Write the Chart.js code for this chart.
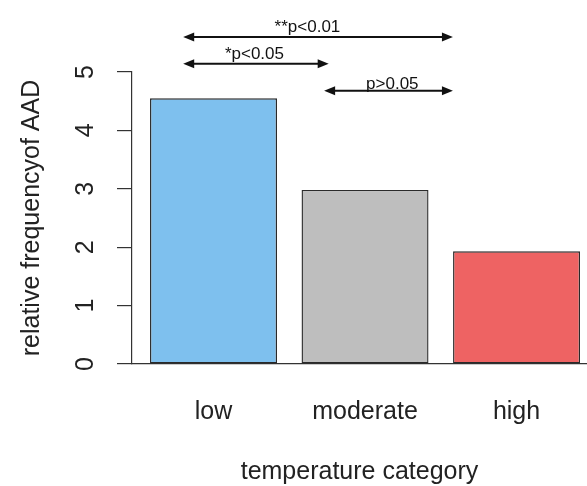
<!DOCTYPE html>
<html>
<head>
<meta charset="utf-8">
<script src="https://cdn.jsdelivr.net/npm/chart.js@4/dist/chart.umd.min.js"></script>
<style>
  html, body { margin: 0; padding: 0; background: #fff; overflow: hidden; }
  #wrap { width: 587px; height: 486px; }
</style>
</head>
<body>
<div id="wrap"><canvas id="chart"></canvas></div>
<script>
// data
const categories = ['low', 'moderate', 'high'];
const frequency = [4.55, 2.98, 1.93];
const barColors = ['#7EC0EE', '#BEBEBE', '#EE6363'];
const yTicks = [0, 1, 2, 3, 4, 5];

// significance brackets (x in category index units, y in axis units)
const sigLabels = ['**p<0.01', '*p<0.05', 'p>0.05'];
const sigFrom = [-0.2, -0.2, 0.73];
const sigTo = [1.58, 0.76, 1.58];
const sigLevel = [5.6, 5.14, 4.68];
const sigTextX = [0.62, 0.27, 1.18];
const sigTextY = [5.69, 5.23, 4.71];

Chart.defaults.font.family = '"Liberation Sans", Arial, sans-serif';
Chart.defaults.color = '#222';

/* arrows + p-value text above the bars */
const sigPlugin = {
    id: 'sigArrows',
    afterDraw(chart) {
        const ctx = chart.ctx;
        const xs = chart.scales.x, ys = chart.scales.y;
        ctx.save();
        ctx.strokeStyle = '#111';
        ctx.fillStyle = '#111';
        ctx.lineWidth = 2;
        sigLabels.forEach(function (label, i) {
            const x1 = xs.getPixelForValue(sigFrom[i]);
            const x2 = xs.getPixelForValue(sigTo[i]);
            const y = ys.getPixelForValue(sigLevel[i]);
            ctx.beginPath();
            ctx.moveTo(x1 + 6, y);
            ctx.lineTo(x2 - 6, y);
            ctx.stroke();
            arrowHead(ctx, x1, y, 1);
            arrowHead(ctx, x2, y, -1);
            ctx.font = '17px "Liberation Sans", Arial, sans-serif';
            ctx.textAlign = 'center';
            ctx.textBaseline = 'alphabetic';
            ctx.fillText(label, xs.getPixelForValue(sigTextX[i]), ys.getPixelForValue(sigTextY[i]));
        });
        ctx.restore();
    }
};

function arrowHead(ctx, x, y, dir) {
    ctx.beginPath();
    ctx.moveTo(x, y);
    ctx.lineTo(x + dir * 11, y - 4.5);
    ctx.lineTo(x + dir * 11, y + 4.5);
    ctx.closePath();
    ctx.fill();
}

new Chart(document.getElementById('chart'), {
    type: 'bar',
    data: {
        datasets: [{
            data: frequency.map(function (v, i) { return { x: i, y: v }; }),
            backgroundColor: barColors,
            borderColor: '#2a2a2a',
            borderWidth: 1.4,
            borderSkipped: false,
            barPercentage: 0.838,
            categoryPercentage: 1
        }]
    },
    options: {
        responsive: true,
        maintainAspectRatio: false,
        animation: false,
        layout: { padding: { top: 72, right: 0, bottom: 0, left: 0 } },
        plugins: { legend: { display: false }, tooltip: { enabled: false } },
        scales: {
            x: {
                type: 'linear',
                offset: false,
                min: -0.538,
                max: 2.465,
                afterBuildTicks: function (scale) {
                    scale.ticks = categories.map(function (c, i) { return { value: i }; });
                },
                afterFit: function (scale) { scale.height = 122; },
                ticks: {
                    callback: function (value) { return categories[value]; },
                    font: { size: 25 },
                    padding: 33,
                    maxRotation: 0,
                    autoSkip: false
                },
                grid: { display: false, drawTicks: false },
                border: { display: true, color: '#333', width: 1.2 },
                title: {
                    display: true,
                    text: 'temperature category',
                    font: { size: 25, lineHeight: 1.1 },
                    padding: { top: 0, bottom: 0 }
                }
            },
            y: {
                min: 0,
                max: 5,
                afterBuildTicks: function (scale) {
                    scale.ticks = yTicks.map(function (v) { return { value: v }; });
                },
                afterFit: function (scale) { scale.width = 132; },
                ticks: {
                    font: { size: 25 },
                    minRotation: 90,
                    maxRotation: 90,
                    crossAlign: 'center',
                    padding: 24
                },
                grid: {
                    drawOnChartArea: false,
                    drawTicks: true,
                    tickLength: 15,
                    color: '#333',
                    lineWidth: 1.2
                },
                border: { display: true, color: '#333', width: 1.2 },
                title: {
                    display: true,
                    text: 'relative frequencyof AAD',
                    font: { size: 25 },
                    padding: { top: 17, bottom: 0 }
                }
            }
        }
    },
    plugins: [sigPlugin]
});
</script>
</body>
</html>
